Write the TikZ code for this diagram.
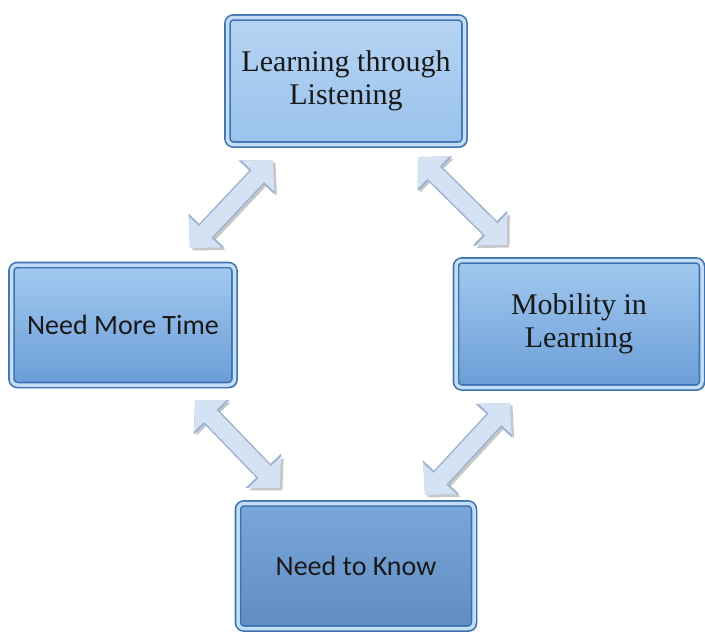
\documentclass[tikz,border=0pt]{standalone}
\usepackage{fontspec}
\usepackage{tikz}
\usetikzlibrary{arrows.meta,shadows}
\newfontfamily\serifbox{Liberation Serif}
\newfontfamily\sansbox{Carlito}
\definecolor{boxedge}{HTML}{3F72B0}
\definecolor{boxlight}{HTML}{A3C9F0}
\definecolor{boxdark}{HTML}{6A9DD6}
\definecolor{bevel}{HTML}{C4DDF6}
\definecolor{arrowfill}{HTML}{D5E2F3}
\definecolor{arrowedge}{HTML}{9DB2CE}

\begin{document}
\begin{tikzpicture}[x=1pt, y=-1pt,
  stage/.style={draw=boxedge, line width=1.6pt, double=bevel, double distance=3.5pt,
    rounded corners=6pt, top color=boxlight, bottom color=boxdark,
    drop shadow={shadow xshift=3pt, shadow yshift=-3pt, fill=black!30},
    align=center, text=black!90, inner sep=0pt},
  serifstage/.style={stage, font=\serifbox\fontsize{30}{33}\selectfont},
  sansstage/.style={stage, font=\sansbox\fontsize{28}{32}\selectfont},
  arrowshadow/.style={line width=19pt, black!22,
    {Triangle[width=46pt,length=23pt]}-{Triangle[width=46pt,length=23pt]}},
  arrowbody/.style={line width=17pt, arrowfill,
    {Triangle[width=44pt,length=22pt]}-{Triangle[width=44pt,length=22pt]},
    preaction={draw=arrowedge, line width=20pt,
      {Triangle[width=48pt,length=24pt]}-{Triangle[width=48pt,length=24pt]}}}]
\useasboundingbox (0,0) rectangle (705,635);

% boxes
\node[serifstage, minimum width=237pt, minimum height=127pt, top color=boxlight!80!white, bottom color=boxlight!85!boxdark] (L) at (346,81)
  {Learning through\\Listening};
\node[sansstage, minimum width=223pt, minimum height=120pt] (T) at (123,325)
  {Need More Time};
\node[serifstage, minimum width=246pt, minimum height=127pt] (M) at (579,324)
  {Mobility in\\Learning};
\node[sansstage, minimum width=236pt, minimum height=125pt, top color=boxdark!90!white, bottom color=boxdark!90!black] (K) at (356,566)
  {Need to Know};

% arrow ends
\coordinate (LT1) at (273,160);
\coordinate (LT2) at (190,248);
\coordinate (LM1) at (418,157);
\coordinate (LM2) at (507,245);
\coordinate (TK1) at (195,400);
\coordinate (TK2) at (280,488);
\coordinate (MK1) at (510,403);
\coordinate (MK2) at (425,495);

\foreach \a/\b in {LT1/LT2, LM1/LM2, TK1/TK2, MK1/MK2} {
  \draw[arrowshadow, transform canvas={shift={(2.5pt,-2.5pt)}}] (\a) -- (\b);
  \draw[arrowbody] (\a) -- (\b);
}
\end{tikzpicture}
\end{document}
